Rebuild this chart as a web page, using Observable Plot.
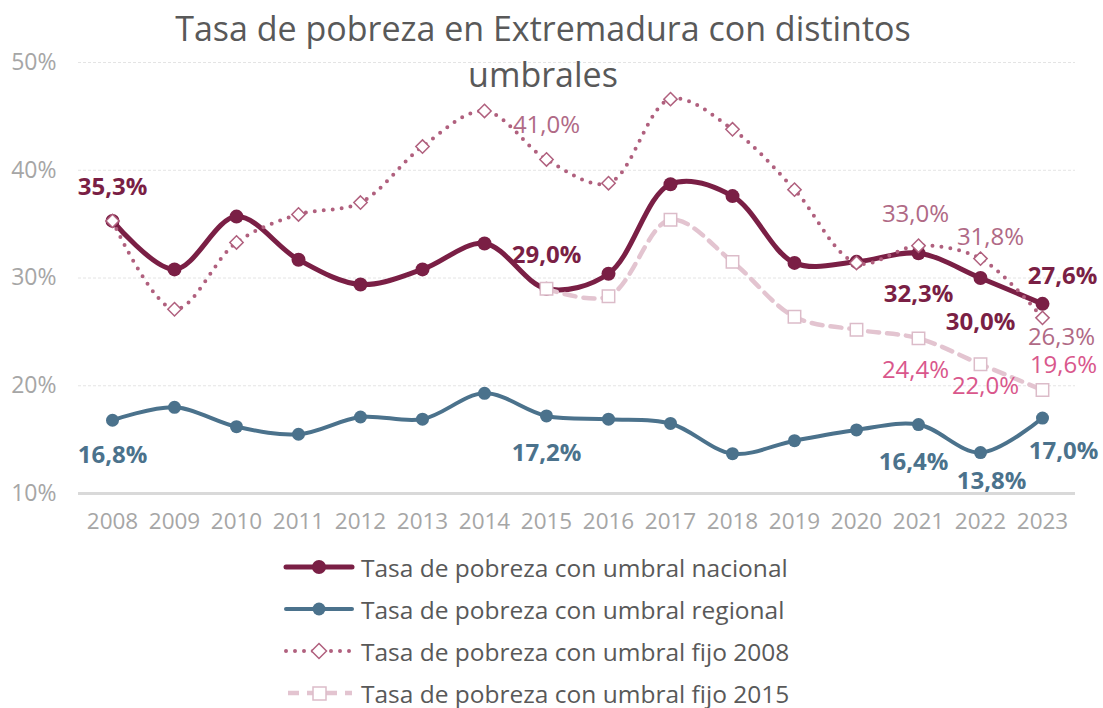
<!DOCTYPE html>
<html>
<head>
<meta charset="utf-8">
<script src="https://cdn.jsdelivr.net/npm/d3@7"></script>
<script src="https://cdn.jsdelivr.net/npm/@observablehq/plot@0.6"></script>
<style>
  html, body { margin: 0; padding: 0; background: #fff; }
  body { font-family: "Open Sans", sans-serif; }
  #wrap { position: relative; width: 1103px; height: 708px; overflow: hidden; }
  #title { position: absolute; left: 93px; top: 5px; width: 900px; text-align: center;
           font-size: 34px; line-height: 46px; color: #595959; }
  #legend { position: absolute; left: 283px; top: 546px; }
  .row { display: flex; align-items: center; height: 42px; }
  .row svg { margin-right: 6px; }
  .row span { font-size: 24.5px; color: #595959; }
  #chart svg { overflow: visible; }
</style>
</head>
<body>
<div id="wrap">
  <div id="chart"></div>
  <div id="title">Tasa de pobreza en Extremadura con distintos<br>umbrales</div>
  <div id="legend"></div>
</div>
<script>
const years = [2008, 2009, 2010, 2011, 2012, 2013, 2014, 2015, 2016, 2017, 2018, 2019, 2020, 2021, 2022, 2023];
const nacional = [35.3, 30.8, 35.7, 31.7, 29.4, 30.8, 33.2, 29.0, 30.4, 38.7, 37.6, 31.4, 31.5, 32.3, 30.0, 27.6];
const regional = [16.8, 18.0, 16.2, 15.5, 17.1, 16.9, 19.3, 17.2, 16.9, 16.5, 13.7, 14.9, 15.9, 16.4, 13.8, 17.0];
const fijo2008 = [35.3, 27.1, 33.3, 35.9, 37.0, 42.2, 45.5, 41.0, 38.8, 46.6, 43.8, 38.2, 31.4, 33.0, 31.8, 26.3];
const fijo2015 = [null, null, null, null, null, null, null, 29.0, 28.3, 35.4, 31.5, 26.4, 25.2, 24.4, 22.0, 19.6];
const yTicks = [10, 20, 30, 40, 50];
const seriesNames = [
  "Tasa de pobreza con umbral nacional",
  "Tasa de pobreza con umbral regional",
  "Tasa de pobreza con umbral fijo 2008",
  "Tasa de pobreza con umbral fijo 2015"
];

const C_NAC = "#7a1f45", C_REG = "#4b728c", C_F08 = "#b0607e", C_F08T = "#b06a86",
      C_F15 = "#e3c4d0", C_F15M = "#dcbcc9", C_F15T = "#d9578c";

const rows = arr => years.map((year, i) => ({year, value: arr[i]})).filter(d => d.value != null);
const fmt = v => v.toFixed(1).replace(".", ",") + "%";

function label(arr, year, color, weight, dx, dy) {
  const i = years.indexOf(year);
  return Plot.text([{year, value: arr[i]}], {
    x: "year", y: "value", text: d => fmt(d.value),
    fill: color, fontWeight: weight, fontSize: 24, dx, dy
  });
}

const chart = Plot.plot({
  width: 1103, height: 540,
  marginLeft: 78, marginRight: 28, marginTop: 62, marginBottom: 47,
  style: {fontFamily: "'Open Sans', sans-serif", background: "transparent"},
  x: {type: "point", domain: years, padding: 0.5, label: null},
  y: {domain: [10, 50], label: null},
  marks: [
    Plot.ruleY(yTicks.slice(1), {stroke: "#e4e4e4", strokeWidth: 1, strokeDasharray: "3,2"}),
    Plot.ruleY([10], {stroke: "#d9d9d9", strokeWidth: 3}),
    Plot.axisY({ticks: yTicks, tickFormat: d => d + "%", tickSize: 0, tickPadding: 22, fontSize: 23, color: "#a6a6a6", label: null}),
    Plot.axisX({tickFormat: d => String(d), tickSize: 0, tickPadding: 20, fontSize: 22.5, color: "#a6a6a6", label: null}),

    Plot.line(rows(nacional), {x: "year", y: "value", stroke: C_NAC, strokeWidth: 5, curve: "catmull-rom"}),
    Plot.dot(rows(nacional), {x: "year", y: "value", r: 7, fill: C_NAC}),

    Plot.line(rows(regional), {x: "year", y: "value", stroke: C_REG, strokeWidth: 4, curve: "catmull-rom"}),
    Plot.dot(rows(regional), {x: "year", y: "value", r: 6.5, fill: C_REG}),

    Plot.line(rows(fijo2008), {x: "year", y: "value", stroke: C_F08, strokeWidth: 4, strokeDasharray: "0,9", strokeLinecap: "round", curve: "catmull-rom"}),
    Plot.dot(rows(fijo2008), {x: "year", y: "value", symbol: "diamond2", r: 6, fill: "white", stroke: C_F08, strokeWidth: 1.5}),

    Plot.line(rows(fijo2015), {x: "year", y: "value", stroke: C_F15, strokeWidth: 4.5, strokeDasharray: "11,8", curve: "catmull-rom"}),
    Plot.dot(rows(fijo2015), {x: "year", y: "value", symbol: "square", r: 7, fill: "white", stroke: C_F15M, strokeWidth: 1.5}),

    label(nacional, 2008, C_NAC, "bold", 0, -34),
    label(nacional, 2015, C_NAC, "bold", 0, -33),
    label(nacional, 2021, C_NAC, "bold", 0, 41),
    label(nacional, 2022, C_NAC, "bold", 0, 44),
    label(nacional, 2023, C_NAC, "bold", 20, -28),

    label(regional, 2008, C_REG, "bold", 0, 35),
    label(regional, 2015, C_REG, "bold", 0, 37),
    label(regional, 2021, C_REG, "bold", -5, 38),
    label(regional, 2022, C_REG, "bold", 11, 29),
    label(regional, 2023, C_REG, "bold", 21, 33),

    label(fijo2008, 2015, C_F08T, "normal", 0, -34),
    label(fijo2008, 2021, C_F08T, "normal", -3, -31),
    label(fijo2008, 2022, C_F08T, "normal", 10, -21),
    label(fijo2008, 2023, C_F08T, "normal", 19, 19),

    label(fijo2015, 2021, C_F15T, "normal", -3, 32),
    label(fijo2015, 2022, C_F15T, "normal", 5, 22),
    label(fijo2015, 2023, C_F15T, "normal", 21, -25)
  ]
});
document.getElementById("chart").appendChild(chart);

// Legend
const swatches = [
  `<line x1="3" y1="12" x2="69" y2="12" stroke="${C_NAC}" stroke-width="5" stroke-linecap="round"/><circle cx="36" cy="12" r="7" fill="${C_NAC}"/>`,
  `<line x1="3" y1="12" x2="69" y2="12" stroke="${C_REG}" stroke-width="4" stroke-linecap="round"/><circle cx="36" cy="12" r="6.5" fill="${C_REG}"/>`,
  `<line x1="3" y1="12" x2="69" y2="12" stroke="${C_F08}" stroke-width="4" stroke-linecap="round" stroke-dasharray="0,9"/><path d="M36,4.5 L43.5,12 L36,19.5 L28.5,12 Z" fill="white" stroke="${C_F08}" stroke-width="1.5"/>`,
  `<line x1="3" y1="12" x2="69" y2="12" stroke="${C_F15}" stroke-width="4.5" stroke-dasharray="11,8" stroke-dashoffset="-2"/><rect x="30" y="6" width="13" height="13" fill="white" stroke="${C_F15M}" stroke-width="1.5"/>`
];
const legend = document.getElementById("legend");
seriesNames.forEach((name, i) => {
  const row = document.createElement("div");
  row.className = "row";
  row.innerHTML = `<svg width="72" height="24" viewBox="0 0 72 24">${swatches[i]}</svg><span>${name}</span>`;
  legend.appendChild(row);
});
</script>
</body>
</html>
